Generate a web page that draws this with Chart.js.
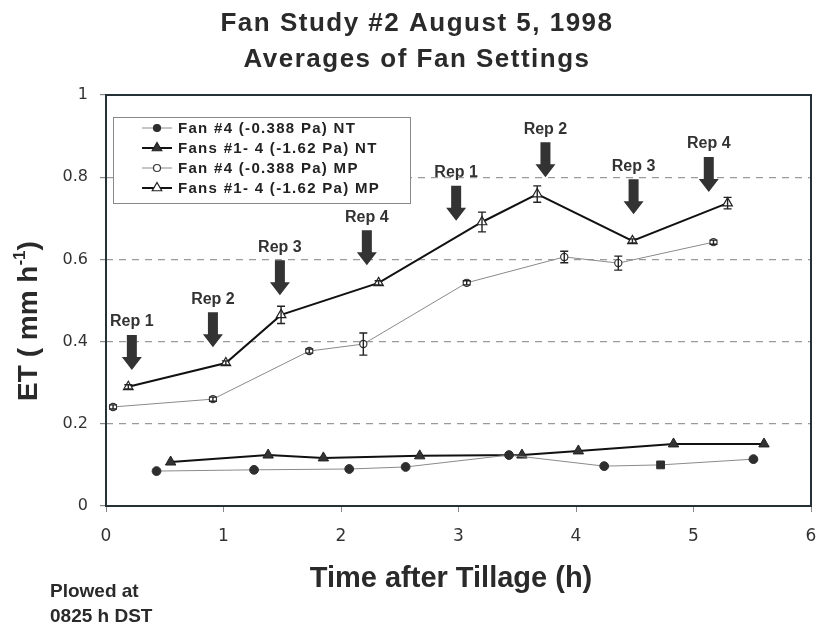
<!DOCTYPE html>
<html>
<head>
<meta charset="utf-8">
<script src="https://cdn.jsdelivr.net/npm/chart.js@4.4.1/dist/chart.umd.min.js"></script>
<style>
  html, body { margin: 0; padding: 0; background: #fff; overflow: hidden; }
  #wrap { width: 816px; height: 626px; position: relative; overflow: hidden; }
  canvas { display: block; }
</style>
</head>
<body>
<div id="wrap"><canvas id="fanChart"></canvas></div>
<script>
// values (x = hours after tillage, y = ET in mm/h)
const fan4NtX = [0.43, 1.26, 2.07, 2.55, 3.43, 4.24, 4.72, 5.51];
const fan4NtY = [0.085, 0.088, 0.090, 0.095, 0.124, 0.097, 0.100, 0.114];

const fansNtX = [0.55, 1.38, 1.85, 2.67, 3.54, 4.02, 4.83, 5.60];
const fansNtY = [0.107, 0.124, 0.117, 0.122, 0.124, 0.134, 0.151, 0.151];

const fan4MpX = [0.06, 0.91, 1.73, 2.19, 3.07, 3.90, 4.36, 5.17];
const fan4MpY = [0.241, 0.260, 0.377, 0.394, 0.543, 0.606, 0.591, 0.642];
const fan4MpErr = [0.005, 0.005, 0.005, 0.027, 0.005, 0.014, 0.017, 0.005];

const fansMpX = [0.19, 1.02, 1.49, 2.32, 3.20, 3.67, 4.48, 5.29];
const fansMpY = [0.290, 0.348, 0.465, 0.543, 0.691, 0.759, 0.645, 0.737];
const fansMpErr = [0.005, 0.005, 0.021, 0.005, 0.024, 0.020, 0.005, 0.014];

const seriesNames = [
  'Fan #4 (-0.388 Pa) NT',
  'Fans #1- 4 (-1.62 Pa) NT',
  'Fan #4 (-0.388 Pa) MP',
  'Fans #1- 4 (-1.62 Pa) MP'
];

// replicate arrows: x position and the y value the arrow points at
const repLabels = ['Rep 1', 'Rep 2', 'Rep 3', 'Rep 4', 'Rep 1', 'Rep 2', 'Rep 3', 'Rep 4'];
const repX = [0.22, 0.91, 1.48, 2.22, 2.98, 3.74, 4.49, 5.13];
const repTipY = [0.331, 0.386, 0.513, 0.586, 0.694, 0.800, 0.710, 0.764];

const xTicks = [0, 1, 2, 3, 4, 5, 6];
const yTicks = [0, 0.2, 0.4, 0.6, 0.8, 1];

const titleLines = ['Fan Study #2 August 5, 1998', 'Averages of Fan Settings'];
const xTitle = 'Time after Tillage (h)';
const noteLines = ['Plowed at', '0825 h DST'];

const SANS = '"Liberation Sans", Arial, sans-serif';

function toPoints(xs, ys) {
  return xs.map((x, i) => ({x: x, y: ys[i]}));
}

// small marker painter, used for the legend
function drawMarker(ctx, style, x, y, r, fill, stroke) {
  ctx.save();
  ctx.beginPath();
  if (style === 'triangle') {
    ctx.moveTo(x, y - r);
    ctx.lineTo(x + r * 0.866, y + r * 0.5);
    ctx.lineTo(x - r * 0.866, y + r * 0.5);
    ctx.closePath();
  } else {
    ctx.arc(x, y, r, 0, Math.PI * 2);
  }
  ctx.fillStyle = fill;
  ctx.fill();
  ctx.lineWidth = 1.2;
  ctx.strokeStyle = stroke;
  ctx.stroke();
  ctx.restore();
}

// error bars on the MP series
const errorBarPlugin = {
  id: 'errorBars',
  afterDatasetsDraw(chart) {
    const ctx = chart.ctx;
    const xs = chart.scales.x, ys = chart.scales.y;
    chart.data.datasets.forEach((ds) => {
      if (!ds.errors) return;
      ctx.save();
      ctx.strokeStyle = '#222';
      ctx.lineWidth = 1.4;
      ds.data.forEach((p, i) => {
        const px = xs.getPixelForValue(p.x);
        const top = ys.getPixelForValue(p.y + ds.errors[i]);
        const bot = ys.getPixelForValue(p.y - ds.errors[i]);
        ctx.beginPath();
        ctx.moveTo(px, top); ctx.lineTo(px, bot);
        ctx.moveTo(px - 4, top); ctx.lineTo(px + 4, top);
        ctx.moveTo(px - 4, bot); ctx.lineTo(px + 4, bot);
        ctx.stroke();
      });
      ctx.restore();
    });
  }
};

// frame, arrows, legend and all the free text
const decorPlugin = {
  id: 'decor',
  beforeDatasetsDraw(chart) {
    const ctx = chart.ctx, a = chart.chartArea;
    ctx.save();
    ctx.strokeStyle = '#243238';
    ctx.lineWidth = 2;
    ctx.strokeRect(a.left, a.top, a.right - a.left, a.bottom - a.top);
    ctx.restore();
  },
  afterDraw(chart) {
    const ctx = chart.ctx;
    const xs = chart.scales.x, ys = chart.scales.y;

    // rep arrows
    ctx.save();
    ctx.fillStyle = '#333';
    repX.forEach((rx, i) => {
      const px = xs.getPixelForValue(rx);
      const tip = ys.getPixelForValue(repTipY[i]);
      ctx.beginPath();
      ctx.moveTo(px, tip);
      ctx.lineTo(px + 10, tip - 13);
      ctx.lineTo(px + 5, tip - 13);
      ctx.lineTo(px + 5, tip - 35);
      ctx.lineTo(px - 5, tip - 35);
      ctx.lineTo(px - 5, tip - 13);
      ctx.lineTo(px - 10, tip - 13);
      ctx.closePath();
      ctx.fill();
      ctx.font = 'bold 16px ' + SANS;
      ctx.textAlign = 'center';
      ctx.textBaseline = 'middle';
      ctx.fillText(repLabels[i], px, tip - 48);
    });
    ctx.restore();

    // legend box
    ctx.save();
    ctx.fillStyle = '#fff';
    ctx.fillRect(113, 117, 297, 86);
    ctx.strokeStyle = '#888';
    ctx.lineWidth = 1;
    ctx.strokeRect(113.5, 117.5, 297, 86);
    chart.data.datasets.forEach((ds, i) => {
      const ly = 128 + i * 20;
      ctx.beginPath();
      ctx.strokeStyle = ds.borderColor;
      ctx.lineWidth = ds.borderWidth;
      ctx.moveTo(142, ly); ctx.lineTo(172, ly);
      ctx.stroke();
      drawMarker(ctx, ds.legendStyle, 157, ly, ds.legendRadius, ds.pointBackgroundColor, ds.pointBorderColor);
      ctx.fillStyle = '#222';
      ctx.font = 'bold 15px ' + SANS;
      ctx.letterSpacing = '1.3px';
      ctx.textAlign = 'left';
      ctx.textBaseline = 'middle';
      ctx.fillText(ds.label, 178, ly + 1);
      ctx.letterSpacing = '0px';
    });
    ctx.restore();

    // main title
    ctx.save();
    ctx.fillStyle = '#2a2a2a';
    ctx.font = 'bold 26px ' + SANS;
    ctx.letterSpacing = '1.5px';
    ctx.textAlign = 'center';
    ctx.textBaseline = 'alphabetic';
    ctx.fillText(titleLines[0], 417, 31);
    ctx.fillText(titleLines[1], 417, 67);
    ctx.restore();

    // y axis title with superscript
    ctx.save();
    ctx.fillStyle = '#2a2a2a';
    ctx.translate(37, 321);
    ctx.rotate(-Math.PI / 2);
    const mainPart = 'ET ( mm h';
    ctx.font = 'bold 28px ' + SANS;
    const w1 = ctx.measureText(mainPart).width;
    ctx.font = 'bold 17px ' + SANS;
    const w2 = ctx.measureText('-1').width;
    ctx.font = 'bold 28px ' + SANS;
    const w3 = ctx.measureText(')').width;
    let sx = -(w1 + w2 + w3) / 2;
    ctx.textAlign = 'left';
    ctx.textBaseline = 'alphabetic';
    ctx.fillText(mainPart, sx, 0);
    ctx.font = 'bold 17px ' + SANS;
    ctx.fillText('-1', sx + w1, -12);
    ctx.font = 'bold 28px ' + SANS;
    ctx.fillText(')', sx + w1 + w2, 0);
    ctx.restore();

    // x axis title
    ctx.save();
    ctx.fillStyle = '#2a2a2a';
    ctx.font = 'bold 29px ' + SANS;
    ctx.textAlign = 'center';
    ctx.textBaseline = 'alphabetic';
    ctx.fillText(xTitle, 451, 587);
    ctx.restore();

    // note bottom left
    ctx.save();
    ctx.fillStyle = '#2a2a2a';
    ctx.font = 'bold 19px ' + SANS;
    ctx.textAlign = 'left';
    ctx.fillText(noteLines[0], 50, 597);
    ctx.fillText(noteLines[1], 50, 622);
    ctx.restore();
  }
};

const ctxEl = document.getElementById('fanChart');
const fanChart = new Chart(ctxEl, {
  type: 'scatter',
  data: {
    datasets: [{
      label: seriesNames[0],
      data: toPoints(fan4NtX, fan4NtY),
      showLine: true,
      borderColor: '#8a8a8a',
      borderWidth: 1,
      pointStyle: (c) => c.dataIndex === 6 ? 'rect' : 'circle',
      pointRadius: (c) => c.dataIndex === 6 ? 5.5 : 4.4,
      legendStyle: 'circle',
      legendRadius: 3.5,
      pointBackgroundColor: '#2e2e2e',
      pointBorderColor: '#2e2e2e',
      pointBorderWidth: 1
    }, {
      label: seriesNames[1],
      data: toPoints(fansNtX, fansNtY),
      showLine: true,
      borderColor: '#111',
      borderWidth: 2,
      pointStyle: 'triangle',
      pointRadius: 6,
      legendStyle: 'triangle',
      legendRadius: 5.5,
      pointBackgroundColor: '#333',
      pointBorderColor: '#222',
      pointBorderWidth: 1
    }, {
      label: seriesNames[2],
      data: toPoints(fan4MpX, fan4MpY),
      errors: fan4MpErr,
      showLine: true,
      borderColor: '#8a8a8a',
      borderWidth: 1,
      pointStyle: 'circle',
      pointRadius: 3.6,
      legendStyle: 'circle',
      legendRadius: 3.5,
      pointBackgroundColor: '#fff',
      pointBorderColor: '#333',
      pointBorderWidth: 1.2
    }, {
      label: seriesNames[3],
      data: toPoints(fansMpX, fansMpY),
      errors: fansMpErr,
      showLine: true,
      borderColor: '#111',
      borderWidth: 2,
      pointStyle: 'triangle',
      pointRadius: 5.5,
      legendStyle: 'triangle',
      legendRadius: 5.5,
      pointBackgroundColor: '#fff',
      pointBorderColor: '#222',
      pointBorderWidth: 1.2
    }]
  },
  options: {
    responsive: true,
    maintainAspectRatio: false,
    animation: false,
    events: [],
    layout: { autoPadding: false, padding: { top: 95, left: 12, right: 5, bottom: 32 } },
    plugins: {
      legend: { display: false },
      title: { display: false },
      tooltip: { enabled: false }
    },
    scales: {
      x: {
        type: 'linear',
        min: 0, max: 6,
        afterFit: (s) => { s.height = 88; s.paddingLeft = 0; s.paddingRight = 0; },
        afterBuildTicks: (s) => { s.ticks = xTicks.map(v => ({value: v})); },
        grid: { drawOnChartArea: false, drawTicks: true, tickLength: 6, tickColor: '#888', color: '#888' },
        border: { display: false },
        ticks: {
          padding: 14,
          color: '#333',
          font: { family: '"DejaVu Sans", sans-serif', size: 17 },
          maxRotation: 0
        }
      },
      y: {
        min: 0, max: 1,
        afterFit: (s) => { s.width = 94; },
        afterBuildTicks: (s) => { s.ticks = yTicks.map(v => ({value: v})); },
        grid: {
          drawTicks: true,
          tickLength: 6,
          tickColor: '#888',
          color: (c) => (c.tick && (c.tick.value === 0 || c.tick.value === 1)) ? 'rgba(0,0,0,0)' : '#9a9a9a',
          lineWidth: 1.2
        },
        border: { display: false, dash: [7, 6] },
        ticks: {
          padding: 12,
          color: '#333',
          font: { family: '"DejaVu Sans", sans-serif', size: 16 },
          callback: (v) => String(Math.round(v * 10) / 10)
        }
      }
    }
  },
  plugins: [errorBarPlugin, decorPlugin]
});
</script>
</body>
</html>
